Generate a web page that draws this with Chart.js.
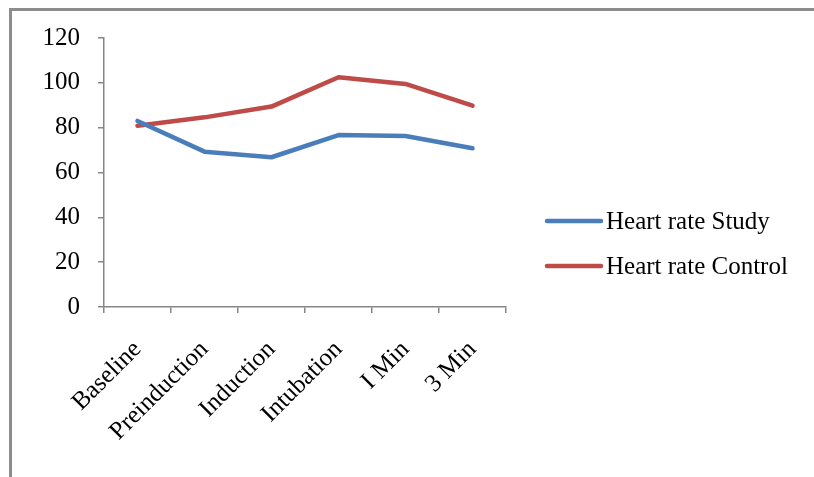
<!DOCTYPE html>
<html>
<head>
<meta charset="utf-8">
<script src="https://cdn.jsdelivr.net/npm/chart.js@4/dist/chart.umd.min.js"></script>
<style>
  html, body { margin: 0; padding: 0; background: #fff; }
  #wrap { position: relative; width: 814px; height: 477px; overflow: hidden; }
  #frame { position: absolute; left: 9px; top: 8px; width: 900px; height: 600px;
           border-top: 3px solid #8c8c8c; border-left: 3px solid #8c8c8c; box-sizing: border-box; }
  canvas { position: absolute; left: 0; top: 0; }
</style>
</head>
<body>
<div id="wrap">
  <div id="frame"></div>
  <canvas id="c" width="814" height="477"></canvas>
</div>
<script>
// Time points of the measurement
const categories = ['Baseline', 'Preinduction', 'Induction', 'Intubation', 'I Min', '3 Min'];
// Mean heart rate per group
const studyHR = [83, 69.3, 66.8, 76.7, 76.3, 70.8];
const controlHR = [80.9, 84.6, 89.4, 102.5, 99.5, 89.8];
// Y axis range
const yMin = 0, yMax = 120, yStep = 20;

const FONT = 'Liberation Serif, Times New Roman, serif';
const AXIS = '#868686';

// Legend drawn at the right, one line sample + label per dataset
const sideLegend = {
  id: 'sideLegend',
  afterDraw(chart) {
    const ctx = chart.ctx;
    const x0 = 547, x1 = 601, tx = 606;
    const ys = [221, 266];
    ctx.save();
    chart.data.datasets.forEach((ds, i) => {
      ctx.strokeStyle = ds.borderColor;
      ctx.lineWidth = 4.5;
      ctx.lineCap = 'round';
      ctx.beginPath();
      ctx.moveTo(x0, ys[i]);
      ctx.lineTo(x1, ys[i]);
      ctx.stroke();
      ctx.fillStyle = '#000';
      ctx.font = '25px ' + FONT;
      ctx.textBaseline = 'middle';
      ctx.textAlign = 'left';
      ctx.fillText(ds.label, tx, ys[i] + 1);
    });
    ctx.restore();
  }
};

new Chart(document.getElementById('c'), {
  type: 'line',
  data: {
    labels: categories,
    datasets: [
      { label: 'Heart rate Study', data: studyHR, borderColor: '#4A7EBB', backgroundColor: '#4A7EBB' },
      { label: 'Heart rate Control', data: controlHR, borderColor: '#BE4B48', backgroundColor: '#BE4B48' }
    ]
  },
  options: {
    responsive: false,
    devicePixelRatio: 1,
    animation: false,
    layout: { padding: { top: 38, right: 308, left: 0, bottom: 0 } },
    elements: {
      line: { borderWidth: 4.5, tension: 0, borderCapStyle: 'round', borderJoinStyle: 'round' },
      point: { radius: 0, hoverRadius: 0 }
    },
    plugins: { legend: { display: false }, tooltip: { enabled: false } },
    scales: {
      x: {
        offset: true,
        grid: { offset: true, drawOnChartArea: false, drawTicks: true, tickLength: 6, color: AXIS, lineWidth: 1.5 },
        border: { color: AXIS, width: 1.5 },
        ticks: { color: '#000', font: { family: FONT, size: 25 }, minRotation: 45, maxRotation: 45, padding: 22 },
        afterFit(s) { s.height = 170; }
      },
      y: {
        min: yMin, max: yMax,
        grid: { drawOnChartArea: false, drawTicks: true, tickLength: 6, color: AXIS, lineWidth: 1.5 },
        border: { color: AXIS, width: 1.5 },
        ticks: { stepSize: yStep, color: '#000', font: { family: FONT, size: 25 }, padding: 18 },
        afterFit(s) { s.width = 104; }
      }
    }
  },
  plugins: [sideLegend]
});
</script>
</body>
</html>
